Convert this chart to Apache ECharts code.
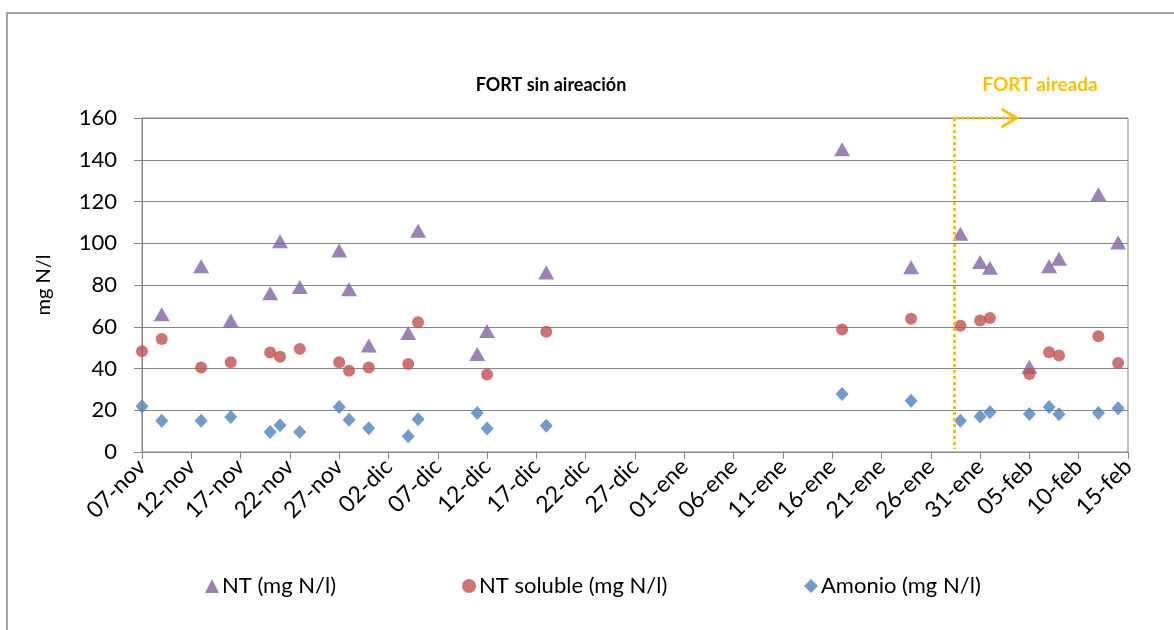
<!DOCTYPE html>
<html>
<head>
<meta charset="utf-8">
<script src="https://cdn.jsdelivr.net/npm/echarts@6/dist/echarts.min.js"></script>
<style>
html,body{margin:0;padding:0;background:#fff;}
#chart{width:1174px;height:630px;}
</style>
</head>
<body>
<div id="chart"></div>
<script>
// ---- data ----
const startDate = '2012-11-07';
const sampleDates = ['2012-11-07','2012-11-09','2012-11-13','2012-11-16','2012-11-20','2012-11-21','2012-11-23',
  '2012-11-27','2012-11-28','2012-11-30','2012-12-04','2012-12-05','2012-12-11','2012-12-12','2012-12-18',
  '2013-01-17','2013-01-24','2013-01-29','2013-01-31','2013-02-01','2013-02-05','2013-02-07','2013-02-08',
  '2013-02-12','2013-02-14'];
const ntValues = [null,66,89,63,76,101,79,96.5,78,51,57,106,47,58,86,145,88.5,104.5,91,88.3,40.8,89,92.6,123.5,100.3];
const ntSolubleValues = [48.3,54.1,40.5,43,47.7,45.6,49.4,43,38.9,40.5,42.1,62.1,null,37.1,57.6,58.7,63.8,60.5,63,64.2,37.4,47.8,46.2,55.5,42.6];
const amonioValues = [21.9,15,15,16.8,9.6,12.8,9.6,21.6,15.5,11.4,7.5,15.7,18.7,11.2,12.6,27.8,24.6,15,17,19,18.2,21.6,18.1,18.7,21];
const xTickLabels = ['07-nov','12-nov','17-nov','22-nov','27-nov','02-dic','07-dic','12-dic','17-dic','22-dic','27-dic',
  '01-ene','06-ene','11-ene','16-ene','21-ene','26-ene','31-ene','05-feb','10-feb','15-feb'];
const yTicks = [0,20,40,60,80,100,120,140,160];
const aerationStartDay = 82.4;   // dotted marker position (days from start)
const aerationArrowEndDay = 88.7;

const seriesNames = ['NT (mg N/l)','NT soluble (mg N/l)','Amonio (mg N/l)'];
const colors = ['#8064A2','#C0504D','#4F81BD'];

const DAY = 86400000;
const t0 = Date.parse(startDate + 'T00:00:00Z');
const dayOffsets = sampleDates.map(d => Math.round((Date.parse(d + 'T00:00:00Z') - t0) / DAY));
const pairs = vals => dayOffsets.map((d, i) => [d, vals[i]]).filter(p => p[1] !== null);

const FONT = 'Lato';
const chart = echarts.init(document.getElementById('chart'));

const mkSeries = (name, vals, symbol, size, color, z) => ({
  name, type: 'scatter', data: pairs(vals), symbol, symbolSize: size,
  itemStyle: { color }, z, emphasis: { disabled: true }, animation: false
});

const xMax = (xTickLabels.length - 1) * 5;

chart.setOption({
  animation: false,
  textStyle: { fontFamily: FONT },
  grid: { left: 142, right: 46, top: 118, bottom: 178, show: true, borderColor: '#868686', borderWidth: 1 },
  xAxis: {
    type: 'value', min: 0, max: xMax, interval: 5,
    axisLine: { show: true, lineStyle: { color: '#868686', width: 1 } },
    axisTick: { show: true, length: 7, lineStyle: { color: '#868686' } },
    splitLine: { show: false },
    axisLabel: {
      rotate: 45, fontSize: 23, color: '#000', fontFamily: FONT, margin: 11,
      formatter: v => xTickLabels[Math.round(v / 5)] || ''
    }
  },
  yAxis: {
    type: 'value', min: yTicks[0], max: yTicks[yTicks.length - 1], interval: 20,
    name: 'mg N/l', nameLocation: 'middle', nameGap: 88,
    nameTextStyle: { fontSize: 20, color: '#000', fontFamily: FONT },
    axisLine: { show: true, lineStyle: { color: '#868686', width: 1 } },
    axisTick: { show: true, length: 8, lineStyle: { color: '#868686' } },
    splitLine: { show: true, lineStyle: { color: '#868686', width: 1 } },
    axisLabel: { fontSize: 22, color: '#000', fontFamily: FONT, margin: 25 }
  },
  legend: [
    { data: [seriesNames[0]], left: 200, top: 570 },
    { data: [seriesNames[1]], left: 457, top: 570 },
    { data: [seriesNames[2]], left: 799, top: 570 }
  ].map(l => Object.assign(l, {
    itemWidth: 14, itemHeight: 14, itemGap: 0,
    textStyle: { fontSize: 22, color: '#000', fontFamily: FONT, padding: [0, 0, 0, -2] }
  })),
  series: [
    mkSeries(seriesNames[0], ntValues, 'triangle', [16, 14], colors[0], 2),
    mkSeries(seriesNames[1], ntSolubleValues, 'circle', 12, colors[1], 3),
    mkSeries(seriesNames[2], amonioValues, 'diamond', [13, 14], colors[2], 4)
  ]
});

// annotations drawn on top
const p0 = chart.convertToPixel({ gridIndex: 0 }, [aerationStartDay, 0]);
const p1 = chart.convertToPixel({ gridIndex: 0 }, [aerationStartDay, 160]);
const p2 = chart.convertToPixel({ gridIndex: 0 }, [aerationArrowEndDay, 160]);
const gold = '#FFC000';
chart.setOption({
  graphic: [
    { type: 'rect', shape: { x: 7, y: 13, width: 1200, height: 700 }, style: { fill: null, stroke: '#868686', lineWidth: 1.5 }, z: 1, silent: true },
    { type: 'text', x: 551, y: 85, style: { text: 'FORT sin aireación', font: 'bold 18px ' + FONT, fill: '#000', align: 'center', verticalAlign: 'middle' }, z: 10 },
    { type: 'text', x: 1040, y: 85, style: { text: 'FORT aireada', font: 'bold 19px ' + FONT, fill: gold, align: 'center', verticalAlign: 'middle' }, z: 10 },
    { type: 'line', shape: { x1: p1[0], y1: p1[1], x2: p0[0], y2: p0[1] - 3 }, style: { stroke: gold, lineWidth: 3, lineDash: [3, 3] }, z: 20 },
    { type: 'line', shape: { x1: p1[0], y1: p1[1], x2: p2[0] - 2, y2: p2[1] }, style: { stroke: gold, lineWidth: 3, lineDash: [3, 3] }, z: 20 },
    { type: 'polyline', shape: { points: [[p2[0] - 15, p2[1] - 9], [p2[0], p2[1]], [p2[0] - 15, p2[1] + 9]] }, style: { stroke: gold, lineWidth: 3, fill: null }, z: 20 }
  ]
});
</script>
</body>
</html>
